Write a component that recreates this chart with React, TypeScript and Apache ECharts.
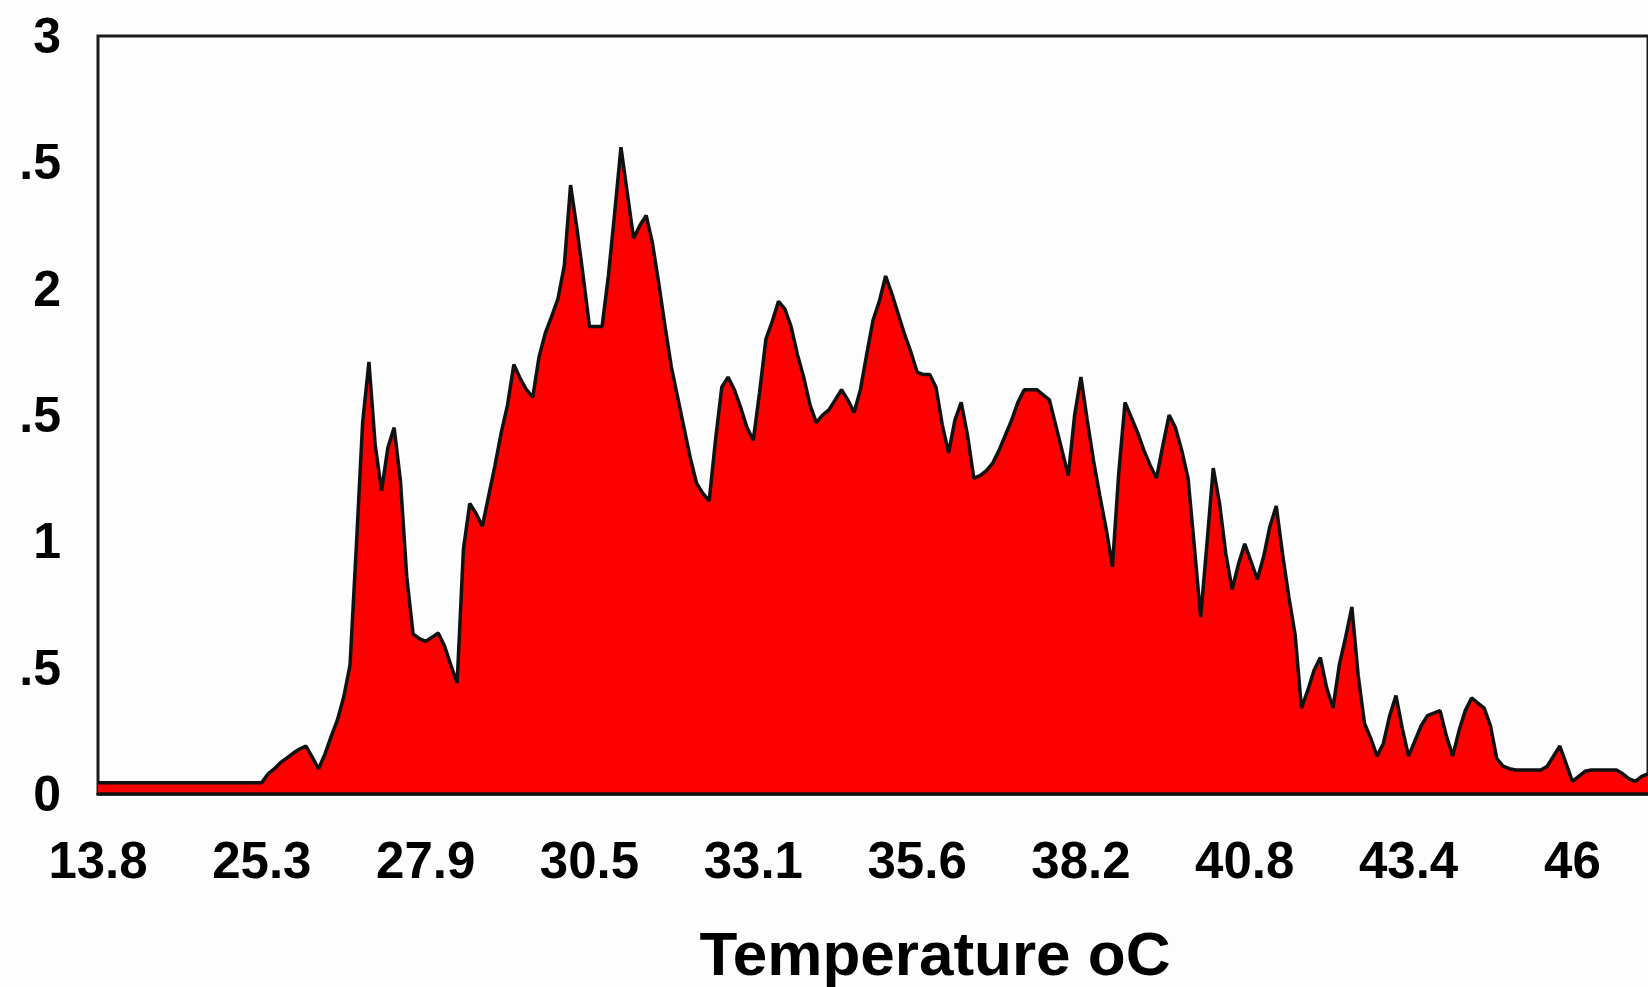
import React, { useEffect, useRef } from "react";
import * as echarts from "echarts";

// Tick labels shown on the temperature axis (one every 26 bins)
const tickLabels = ["13.8", "25.3", "27.9", "30.5", "33.1", "35.6", "38.2", "40.8", "43.4", "46"];
const binsPerTick = 26;

// Y tick labels as visible in the (cropped) reference
const yTickLabels = ["0", ".5", "1", ".5", "2", ".5", "3"];

const xTitle = "Temperature oC";

// Frequency per temperature bin
const frequency = [
  0.045, 0.045, 0.045, 0.045, 0.045, 0.045, 0.045, 0.045, 0.045, 0.045,
  0.045, 0.045, 0.045, 0.045, 0.045, 0.045, 0.045, 0.045, 0.045, 0.045,
  0.045, 0.045, 0.045, 0.045, 0.045, 0.045, 0.045, 0.08, 0.10, 0.125,
  0.143, 0.162, 0.178, 0.19, 0.146, 0.10, 0.157, 0.227, 0.293, 0.384,
  0.51, 0.98, 1.47, 1.71, 1.38, 1.20, 1.37, 1.45, 1.24, 0.86,
  0.634, 0.615, 0.604, 0.62, 0.637, 0.586, 0.51, 0.44, 0.97, 1.15,
  1.11, 1.06, 1.18, 1.30, 1.43, 1.54, 1.70, 1.645, 1.60, 1.57,
  1.73, 1.825, 1.89, 1.96, 2.09, 2.41, 2.24, 2.05, 1.85, 1.85,
  1.85, 2.05, 2.30, 2.56, 2.38, 2.20, 2.25, 2.29, 2.18, 2.02,
  1.85, 1.69, 1.57, 1.45, 1.33, 1.23, 1.19, 1.16, 1.40, 1.61,
  1.65, 1.60, 1.53, 1.45, 1.40, 1.59, 1.80, 1.87, 1.95, 1.92,
  1.85, 1.74, 1.65, 1.54, 1.47, 1.50, 1.52, 1.56, 1.60, 1.56,
  1.51, 1.60, 1.74, 1.875, 1.95, 2.05, 1.98, 1.90, 1.82, 1.75,
  1.67, 1.66, 1.66, 1.61, 1.46, 1.35, 1.48, 1.55, 1.42, 1.25,
  1.26, 1.28, 1.31, 1.36, 1.42, 1.48, 1.55, 1.60, 1.60, 1.60,
  1.58, 1.56, 1.46, 1.36, 1.26, 1.50, 1.65, 1.48, 1.32, 1.18,
  1.05, 0.90, 1.27, 1.55, 1.49, 1.43, 1.36, 1.30, 1.25, 1.38,
  1.50, 1.45, 1.36, 1.25, 0.98, 0.70, 0.99, 1.29, 1.15, 0.95,
  0.81, 0.91, 0.99, 0.92, 0.85, 0.94, 1.06, 1.14, 0.95, 0.78,
  0.63, 0.34, 0.41, 0.49, 0.54, 0.42, 0.34, 0.51, 0.62, 0.74,
  0.47, 0.28, 0.22, 0.15, 0.20, 0.31, 0.39, 0.26, 0.15, 0.21,
  0.27, 0.31, 0.32, 0.33, 0.23, 0.15, 0.25, 0.33, 0.38, 0.36,
  0.34, 0.27, 0.14, 0.11, 0.10, 0.095, 0.095, 0.095, 0.095, 0.095,
  0.11, 0.15, 0.19, 0.12, 0.05, 0.07, 0.09, 0.095, 0.095, 0.095,
  0.095, 0.095, 0.08, 0.06, 0.05, 0.07, 0.08,
];

const FONT = '"Liberation Sans", Arial, Helvetica, sans-serif';

export default function App() {
  const ref = useRef<HTMLDivElement>(null);

  useEffect(() => {
    if (!ref.current) return;
    const chart = echarts.init(ref.current, null, { renderer: "svg" });
    const categories = frequency.map((_, i) => String(i));

    chart.setOption({
      animation: false,
      backgroundColor: "#fdfdfd",
      grid: {
        left: 98,
        right: -4,
        top: 36,
        bottom: 193,
        show: true,
        borderColor: "#1a1a1a",
        borderWidth: 3,
        backgroundColor: "transparent",
      },
      xAxis: {
        type: "category",
        data: categories,
        boundaryGap: false,
        z: 5,
        axisLine: { show: true, lineStyle: { color: "#111", width: 3.5 } },
        axisTick: { show: false },
        splitLine: { show: false },
        axisLabel: {
          interval: binsPerTick - 1,
          margin: 41,
          color: "#000",
          fontSize: 51,
          fontWeight: "bold",
          fontFamily: FONT,
          formatter: (_v: string, idx: number) =>
            idx % binsPerTick === 0 ? tickLabels[idx / binsPerTick] ?? "" : "",
        },
      },
      yAxis: {
        type: "value",
        min: 0,
        max: 3,
        interval: 0.5,
        axisLine: { show: false },
        axisTick: { show: false },
        splitLine: { show: false },
        axisLabel: {
          margin: 37,
          color: "#000",
          fontSize: 50,
          fontWeight: "bold",
          fontFamily: FONT,
          formatter: (v: number) => yTickLabels[Math.round(v / 0.5)] ?? "",
        },
      },
      graphic: [
        {
          type: "text",
          x: 935,
          y: 953,
          style: {
            text: xTitle,
            font: `bold 62px ${FONT}`,
            fill: "#000",
            textAlign: "center",
            textVerticalAlign: "middle",
          },
        },
      ],
      series: [
        {
          type: "line",
          data: frequency,
          symbol: "none",
          lineStyle: { color: "#111", width: 3.5 },
          areaStyle: { color: "#ff0000", opacity: 1 },
        },
      ],
    });

    return () => chart.dispose();
  }, []);

  return (
    <div
      ref={ref}
      style={{ position: "absolute", left: 0, top: 0, width: 1648, height: 987 }}
    />
  );
}
